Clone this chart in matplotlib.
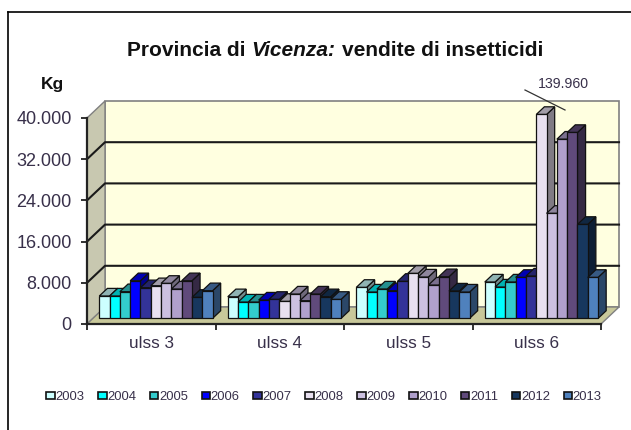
import numpy as np
import matplotlib
matplotlib.use('Agg')
import matplotlib.pyplot as plt
from matplotlib.patches import Patch, Polygon
from matplotlib.lines import Line2D

plt.rcParams['font.family'] = ['Liberation Sans', 'DejaVu Sans']

ulss = ['ulss 3', 'ulss 4', 'ulss 5', 'ulss 6']
years = ['2003', '2004', '2005', '2006', '2007', '2008', '2009', '2010', '2011', '2012', '2013']
ulss3 = [4340, 4340, 5180, 7310, 5950, 6340, 6800, 5700, 7310, 4080, 5370]
ulss4 = [4200, 3170, 3170, 3560, 3690, 3300, 4725, 3430, 4725, 4200, 3690]
ulss5 = [6020, 5110, 5700, 5370, 7190, 8740, 8030, 6470, 8090, 5310, 5110]
ulss6 = [7060, 6085, 7060, 7960, 8220, 139960, 20400, 34800, 36100, 18250, 7960]
colors = ['#CCFFFF', '#00FFFF', '#33CCCC', '#0000FF', '#333399', '#E8E0F0',
          '#CCC0E0', '#B0A0CC', '#604A7B', '#17375E', '#4F81BD']
yticks = [0, 8000, 16000, 24000, 32000, 40000]
ytick_labels = ['0', '8.000', '16.000', '24.000', '32.000', '40.000']
top_drawn = 39600

W, H = 631, 430
x0, x1, y0, y1 = 87, 601, 324, 118   # front plane in pixels
dx_px, dy_px = 18, 17


def shade(c, f):
    return tuple(v * f for v in matplotlib.colors.to_rgb(c))


fig = plt.figure(figsize=(W / 100, H / 100), dpi=100, facecolor='white')
ax = fig.add_axes([x0 / W, 1 - y0 / H, (x1 - x0) / W, (y0 - y1) / H])
ax.set_xlim(0, 4)
ax.set_ylim(0, 40000)
ax.patch.set_visible(False)
for s in ax.spines.values():
    s.set_visible(False)

# depth in data units
dx = dx_px / (x1 - x0) * 4
dy = dy_px / (y0 - y1) * 40000

# walls and floor
ax.add_patch(Polygon([(dx, dy), (4 + dx, dy), (4 + dx, 40000 + dy), (dx, 40000 + dy)],
                     fc='#FFFFE0', ec='#808080', lw=1.2, clip_on=False, zorder=1))
ax.add_patch(Polygon([(0, 0), (dx, dy), (dx, 40000 + dy), (0, 40000)],
                     fc='#C8C8B0', ec='#808080', lw=1, clip_on=False, zorder=1))
ax.add_patch(Polygon([(0, 0), (4, 0), (4 + dx, dy), (dx, dy)],
                     fc='#C8C89A', ec='#808080', lw=1, clip_on=False, zorder=1))
for t in yticks[1:-1]:
    ax.plot([0, dx, 4 + dx], [t, t + dy, t + dy], color='#1a1a1a', lw=1.5, clip_on=False, zorder=2)

# bars
series = [ulss3, ulss4, ulss5, ulss6]
bw = 10.3 / (x1 - x0) * 4
fr, bk = 0.33, 0.78
fr_x = 0.26
z = 3
for g, vals in enumerate(series):
    left = g + 0.5 - 11 * bw / 2 + fr_x * dx
    base = fr * dy
    for i, v in enumerate(vals):
        h = min(v, top_drawn)
        xa = left + i * bw
        xb = xa + bw
        ox = (bk - fr) * dx
        oy = (bk - fr) * dy
        ax.add_patch(Polygon([(xb, base), (xb + ox, base + oy), (xb + ox, base + h + oy), (xb, base + h)],
                             fc=shade(colors[i], 0.55), ec='#111111', lw=0.9, clip_on=False, zorder=z))
        ax.add_patch(Polygon([(xa, base + h), (xb, base + h), (xb + ox, base + h + oy), (xa + ox, base + h + oy)],
                             fc=shade(colors[i], 0.7), ec='#111111', lw=0.9, clip_on=False, zorder=z))
        ax.bar(xa, h, bw, bottom=base, align='edge', color=colors[i], edgecolor='#111111',
               lw=0.9, clip_on=False, zorder=z)
        z += 1

# axes lines and ticks
ax.set_xticks(range(5))
ax.set_xticklabels([])
ax.set_yticks(yticks)
ax.set_yticklabels(ytick_labels, fontsize=13, color='#38304a')
ax.tick_params(axis='y', length=4, width=1.3, color='#222222', pad=7)
ax.tick_params(axis='x', length=4.5, width=1.3, color='#222222')
ax.plot([0, 0], [0, 40000], color='#222222', lw=1.6, clip_on=False, zorder=60)
ax.plot([0, 4], [0, 0], color='#222222', lw=1.6, clip_on=False, zorder=60)
for g, name in enumerate(ulss):
    ax.annotate(name, (g + 0.5, 0), xytext=(0, -14.4), textcoords='offset points', ha='center',
                va='center', fontsize=12.3, color='#38304a', annotation_clip=False)

# break mark on the clipped bar, placed in figure pixels
ax.add_artist(Line2D([525 / W, 565 / W], [1 - 90 / H, 1 - 110 / H], transform=fig.transFigure,
                     color='#333333', lw=0.9, clip_on=False, zorder=70))
fig.text(563 / W, 1 - 84 / H, '139.960', ha='center', va='center', fontsize=10.2, color='#38304a')

# title pieces
fig.text(127 / W, 1 - 51 / H, 'Provincia di', ha='left', va='center', fontsize=15,
         fontweight='bold', color='#111111')
fig.text(251 / W, 1 - 51 / H, 'Vicenza:', ha='left', va='center', fontsize=15,
         fontweight='bold', style='italic', color='#111111')
fig.text(342 / W, 1 - 51 / H, 'vendite di insetticidi', ha='left', va='center', fontsize=15,
         fontweight='bold', color='#111111')
fig.text(52 / W, 1 - 85 / H, 'Kg', ha='center', va='center', fontsize=12.5, fontweight='bold', color='#111111')

# legend
handles = [Patch(fc=c, ec='#111111', lw=1.2) for c in colors]
fig.legend(handles, years, ncol=11, loc='center', bbox_to_anchor=(324 / W, 1 - 397 / H), frameon=False,
           fontsize=9.4, handlelength=0.65, handleheight=0.45, handletextpad=0.05, columnspacing=1.05,
           labelcolor='#38304a', borderpad=0, borderaxespad=0)

# frame
for xs, ys in [([7.5, 7.5], [430, 11.5]), ([7.5, 631], [11.5, 11.5])]:
    fig.add_artist(Line2D([v / W for v in xs], [1 - v / H for v in ys], color='black', lw=1.2))

fig.savefig('out.png', dpi=100)
